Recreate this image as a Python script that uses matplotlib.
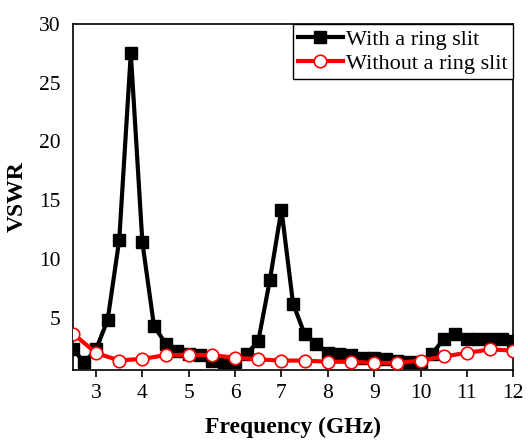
import matplotlib
matplotlib.use("Agg")
import matplotlib.pyplot as plt

freq_with = [2.5, 2.75, 3.0, 3.25, 3.5, 3.75, 4.0, 4.25, 4.5, 4.75, 5.0, 5.25, 5.5, 5.75,
             6.0, 6.25, 6.5, 6.75, 7.0, 7.25, 7.5, 7.75, 8.0, 8.25, 8.5, 8.75, 9.0, 9.25,
             9.5, 9.75, 10.0, 10.25, 10.5, 10.75, 11.0, 11.25, 11.5, 11.75, 12.0]
vswr_with = [2.3, 1.2, 2.3, 4.8, 11.6, 27.5, 11.4, 4.3, 2.8, 2.2, 1.95, 1.8, 1.35, 1.2,
             1.2, 1.9, 3.0, 8.2, 14.2, 6.2, 3.6, 2.8, 2.0, 1.95, 1.8, 1.6, 1.55, 1.5,
             1.35, 1.2, 1.2, 1.9, 3.2, 3.6, 3.2, 3.2, 3.2, 3.2, 3.05]

freq_without = [2.5, 3.0, 3.5, 4.0, 4.5, 5.0, 5.5, 6.0, 6.5, 7.0, 7.5, 8.0, 8.5, 9.0,
                9.5, 10.0, 10.5, 11.0, 11.5, 12.0]
vswr_without = [3.65, 2.0, 1.35, 1.5, 1.8, 1.85, 1.8, 1.6, 1.45, 1.35, 1.35, 1.25, 1.25, 1.15,
                1.15, 1.35, 1.7, 2.0, 2.3, 2.2]

xticks = [3, 4, 5, 6, 7, 8, 9, 10, 11, 12]
yticks = [5, 10, 15, 20, 25, 30]

plt.rcParams['font.family'] = ['Liberation Serif', 'DejaVu Serif']

fig = plt.figure(figsize=(5.28, 4.42), dpi=100)
ax = fig.add_axes([0.138, 0.163, 0.834, 0.783])

ax.plot(freq_with, vswr_with, color='black', lw=3, marker='s', markersize=8,
        markerfacecolor='black', markeredgecolor='black', label='With a ring slit', zorder=3)
ax.plot(freq_without, vswr_without, color='red', lw=3, marker='o', markersize=9,
        markerfacecolor='white', markeredgecolor='red', markeredgewidth=1.2,
        label='Without a ring slit', zorder=4)

ax.set_xlim(2.5, 12)
ax.set_ylim(0.55, 30)
ax.set_xticks(xticks)
ax.set_yticks(yticks)
ax.tick_params(axis='x', direction='out', length=5, width=1.2, labelsize=15.5, pad=5)
ax.tick_params(axis='y', direction='out', length=0, labelsize=15.5, pad=9)
for s in ax.spines.values():
    s.set_linewidth(1.2)

ax.set_xlabel('Frequency (GHz)', fontsize=17, fontweight='bold', labelpad=10)
ax.set_ylabel('VSWR', fontsize=17, fontweight='bold', labelpad=8)

leg = ax.legend(loc='upper right', fontsize=16, frameon=True, fancybox=False,
                edgecolor='black', framealpha=1, borderaxespad=0, handlelength=2.0,
                handletextpad=0.15, borderpad=0.25, labelspacing=0.15)
leg.get_frame().set_linewidth(1.0)

fig.savefig('out.png', dpi=100)
